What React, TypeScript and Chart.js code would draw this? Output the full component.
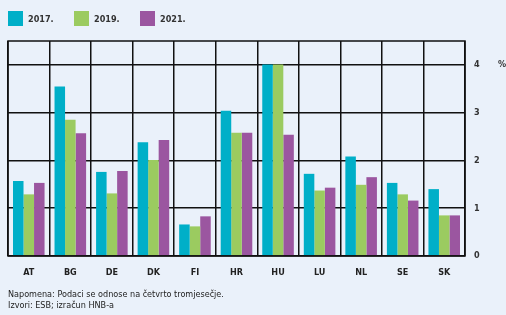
import React, { useEffect, useRef } from "react";
import { Chart, registerables } from "chart.js";

Chart.register(...registerables);

const categories = ["AT", "BG", "DE", "DK", "FI", "HR", "HU", "LU", "NL", "SE", "SK"];
const series2017 = [1.57, 3.55, 1.76, 2.38, 0.66, 3.04, 4.01, 1.72, 2.08, 1.53, 1.4];
const series2019 = [1.29, 2.85, 1.31, 2.01, 0.62, 2.58, 4.01, 1.37, 1.49, 1.29, 0.85];
const series2021 = [1.53, 2.57, 1.78, 2.43, 0.83, 2.58, 2.54, 1.43, 1.65, 1.16, 0.85];
const seriesLabels = ["2017.", "2019.", "2021."];
const colors = ["#00AFC8", "#9BCB60", "#9B56A0"];
const yTicks = [0, 1, 2, 3, 4];
const noteLines = ["Napomena: Podaci se odnose na četvrto tromjesečje.", "Izvori: ESB; izračun HNB-a"];

const FONT = "'Liberation Sans Narrow', 'DejaVu Sans Condensed', 'Roboto', sans-serif";
const BG = "#EAF1FA";

const borderPlugin = {
  id: "plotBorder",
  afterDraw(chart: any) {
    const { ctx, chartArea } = chart;
    ctx.save();
    ctx.strokeStyle = "#111";
    ctx.lineWidth = 1.5;
    ctx.strokeRect(chartArea.left, chartArea.top, chartArea.right - chartArea.left, chartArea.bottom - chartArea.top);
    ctx.restore();
  },
};

export default function App() {
  const ref = useRef<HTMLCanvasElement | null>(null);

  useEffect(() => {
    document.body.style.margin = "0";
    const canvas = ref.current;
    if (!canvas) return;
    const chart = new Chart(canvas, {
      type: "bar",
      data: {
        labels: categories,
        datasets: [series2017, series2019, series2021].map((d, i) => ({
          label: seriesLabels[i],
          data: d,
          backgroundColor: colors[i],
          borderWidth: 0,
          barPercentage: 1,
          categoryPercentage: 0.76,
        })),
      },
      options: {
        animation: false,
        responsive: false,
        maintainAspectRatio: false,
        layout: { padding: { left: 8, top: 41, right: 0, bottom: 0 } },
        plugins: { legend: { display: false }, tooltip: { enabled: false } },
        scales: {
          x: {
            grid: { color: "#111", lineWidth: 1.5, offset: true, drawTicks: false },
            border: { display: false },
            ticks: {
              color: "#222",
              font: { family: FONT, size: 9, weight: "bold" },
              padding: 11,
              maxRotation: 0,
            },
            afterFit: (scale: any) => {
              scale.height = 59;
            },
          },
          y: {
            position: "right",
            min: 0,
            max: 4.5,
            afterBuildTicks: (scale: any) => {
              scale.ticks = yTicks.map((v) => ({ value: v }));
            },
            grid: { color: "#111", lineWidth: 1.5, drawTicks: false },
            border: { display: false },
            ticks: {
              color: "#333",
              font: { family: FONT, size: 9, weight: "bold" },
              padding: 9,
            },
            afterFit: (scale: any) => {
              scale.width = 41;
            },
          },
        },
      },
      plugins: [borderPlugin],
    });
    return () => chart.destroy();
  }, []);

  return (
    <div style={{ position: "relative", width: 506, height: 315, background: BG, overflow: "hidden", fontFamily: FONT }}>
      <canvas ref={ref} width={506} height={315} style={{ position: "absolute", left: 0, top: 0 }} />
      <div style={{ position: "absolute", left: 8, top: 11, display: "flex", alignItems: "center" }}>
        {seriesLabels.map((l, i) => (
          <div key={l} style={{ display: "flex", alignItems: "center", width: 66 }}>
            <div style={{ width: 15, height: 15, background: colors[i], marginRight: 5 }} />
            <span style={{ fontSize: 9, color: "#333", fontWeight: "bold" }}>{l}</span>
          </div>
        ))}
      </div>
      <div style={{ position: "absolute", left: 498, top: 59, fontSize: 9, color: "#333", fontWeight: "bold" }}>%</div>
      <div style={{ position: "absolute", left: 8, top: 289, fontSize: 9, lineHeight: "11px", color: "#222" }}>
        {noteLines.map((t) => (
          <div key={t}>{t}</div>
        ))}
      </div>
    </div>
  );
}
